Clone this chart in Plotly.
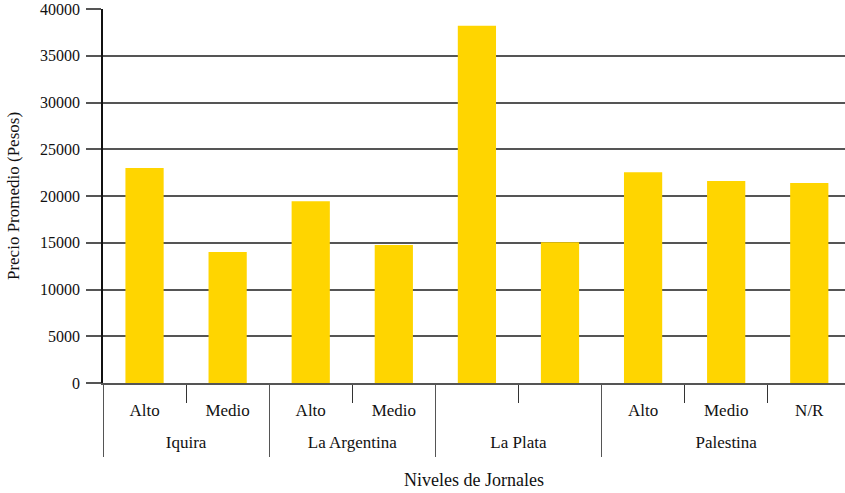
import plotly.graph_objects as go

SPACER1 = '<span style="font-size:37px;color:rgba(0,0,0,0)">.</span>'
SPACER2 = '<span style="font-size:38px;color:rgba(0,0,0,0)">.</span>'

groups = ["Iquira", "Iquira", "La Argentina", "La Argentina",
          SPACER2 + "La Plata" + SPACER2, SPACER2 + "La Plata" + SPACER2,
          "Palestina", "Palestina", "Palestina"]
niveles = ["Alto", "Medio", "Alto", "Medio", SPACER1, " ", "Alto", "Medio", "N/R"]
precios = [23000, 14000, 19450, 14750, 38200, 15050, 22550, 21600, 21400]
y_ticks = [0, 5000, 10000, 15000, 20000, 25000, 30000, 35000, 40000]

FONT = "Liberation Serif"

fig = go.Figure(go.Bar(
    x=[groups, niveles],
    y=precios,
    marker=dict(color="#FFD500", line=dict(width=0)),
))

fig.update_layout(
    width=845, height=493,
    margin=dict(l=103, r=0, t=9, b=110, autoexpand=False),
    paper_bgcolor="white", plot_bgcolor="white",
    bargap=0.54,
    showlegend=False,
    font=dict(family=FONT, size=17, color="#111"),
)

fig.update_xaxes(
    type="multicategory",
    range=[-0.5, 8.43],
    showline=True, linecolor="#555", linewidth=2,
    ticks="outside", ticklen=18, tickcolor="#333", tickwidth=1,
    showdividers=True, dividercolor="#555", dividerwidth=1,
    showgrid=False,
    ticklabelstandoff=11,
    tickfont=dict(family=FONT, size=17, color="#111"),
    title=dict(text="Niveles de Jornales", font=dict(family=FONT, size=18, color="#111"), standoff=18),
    automargin=False,
)

fig.update_yaxes(
    range=[0, 40000],
    tickvals=y_ticks,
    ticktext=[str(v) for v in y_ticks],
    showgrid=True, gridcolor="#555", gridwidth=1.5,
    zeroline=False,
    showline=True, linecolor="#111", linewidth=1.5,
    ticks="outside", ticklen=15, tickcolor="#555", tickwidth=1.5,
    ticklabelstandoff=3,
    tickfont=dict(family=FONT, size=16, color="#111"),
    title=dict(text="Precio Promedio (Pesos)", font=dict(family=FONT, size=17, color="#111"), standoff=16),
    automargin=False,
)

fig.write_html("out.html")
